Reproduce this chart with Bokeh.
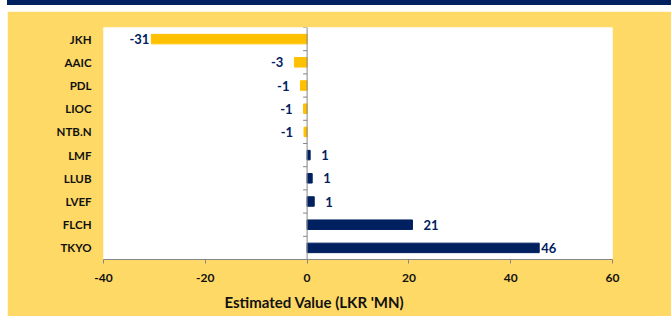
import math
from bokeh.plotting import figure
from bokeh.models import FactorRange, Span, ColumnDataSource, FixedTicker, Div, Title
from bokeh.layouts import column
from bokeh.embed import file_html
from bokeh.resources import INLINE
from bokeh.core.properties import value

# ---- data ----
companies = ["JKH", "AAIC", "PDL", "LIOC", "NTB.N", "LMF", "LLUB", "LVEF", "FLCH", "TKYO"]
values = [-30.6, -2.5, -1.3, -0.7, -0.6, 0.6, 1.0, 1.4, 20.7, 45.6]
labels = ["-31", "-3", "-1", "-1", "-1", "1", "1", "1", "21", "46"]
x_ticks = [-40, -20, 0, 20, 40, 60]
x_tick_labels = ["-40", "-20", "0", "20", "40", "60"]
x_title = "Estimated Value (LKR 'MN)"

# ---- style ----
NAVY = "#002060"
GOLD = "#FFC000"
BG = "#FFD966"
AXIS_GRAY = "#868686"
TEXT = "#111111"
FONT = "Lato"

colors = [GOLD if v < 0 else NAVY for v in values]
bars = ColumnDataSource(dict(y=companies, right=values, color=colors))

neg = [i for i, v in enumerate(values) if v < 0]
pos = [i for i, v in enumerate(values) if v >= 0]


def gap(v):
    return 2 if abs(v) > 25 else 11


neg_src = ColumnDataSource(dict(x=[values[i] for i in neg], y=[companies[i] for i in neg],
                                text=[labels[i] for i in neg],
                                off=[-gap(values[i]) for i in neg]))
pos_src = ColumnDataSource(dict(x=[values[i] for i in pos], y=[companies[i] for i in pos],
                                text=[labels[i] for i in pos],
                                off=[gap(values[i]) for i in pos]))

p = figure(width=664, height=305, margin=(0, 0, 0, 7),
           y_range=FactorRange(factors=companies[::-1], range_padding=0),
           x_range=(x_ticks[0], x_ticks[-1]),
           output_backend="svg", toolbar_location=None,
           min_border_left=96, min_border_right=59,
           min_border_top=16, min_border_bottom=57)

p.background_fill_color = "white"
p.border_fill_color = BG
p.outline_line_color = None
p.xgrid.grid_line_color = None
p.ygrid.grid_line_color = None

p.hbar(y="y", right="right", left=0, height=0.41, color="color", source=bars)

# zero line (category axis crossing)
p.add_layout(Span(location=0, dimension="height", line_color=AXIS_GRAY, line_width=1))
# category boundary tick marks
bounds = list(range(len(companies) + 1))
p.ray(x=[0] * len(bounds), y=bounds, length=4, length_units="screen",
      angle=math.pi, line_color=AXIS_GRAY, line_width=1)

p.text(x="x", y="y", text="text", x_offset="off", source=neg_src,
       text_align="right", text_baseline="middle",
       text_font=value(FONT), text_font_style="bold", text_font_size="13px",
       text_color=NAVY)
p.text(x="x", y="y", text="text", x_offset="off", source=pos_src,
       text_align="left", text_baseline="middle",
       text_font=value(FONT), text_font_style="bold", text_font_size="13px",
       text_color=NAVY)

# y axis (labels only)
p.yaxis.axis_line_color = None
p.yaxis.major_tick_line_color = None
p.yaxis.minor_tick_line_color = None
p.yaxis.major_tick_out = 0
p.yaxis.major_label_standoff = 12
p.yaxis.major_label_text_font = FONT
p.yaxis.major_label_text_font_style = "bold"
p.yaxis.major_label_text_font_size = "11.5px"
p.yaxis.major_label_text_color = TEXT

# x axis
p.xaxis.ticker = FixedTicker(ticks=x_ticks)
p.xaxis.major_label_overrides = {t: s for t, s in zip(x_ticks, x_tick_labels)}
p.xaxis.axis_line_color = AXIS_GRAY
p.xaxis.major_tick_line_color = AXIS_GRAY
p.xaxis.minor_tick_line_color = None
p.xaxis.major_tick_out = 4
p.xaxis.major_tick_in = 0
p.xaxis.major_label_standoff = 10
p.xaxis.major_label_text_font = FONT
p.xaxis.major_label_text_font_style = "bold"
p.xaxis.major_label_text_font_size = "12px"
p.xaxis.major_label_text_color = TEXT

# axis title, placed (as in the original) left of the frame centre
p.add_layout(Title(text=x_title, align="left", offset=121, standoff=12,
                   text_font=FONT, text_font_style="bold", text_font_size="15px",
                   text_color=TEXT), "below")

strip = Div(text="", width=664, height=5, margin=(0, 0, 6, 7),
            styles={"background-color": NAVY})

layout = column(strip, p, spacing=0)

open("out.html", "w").write(file_html(layout, INLINE))
